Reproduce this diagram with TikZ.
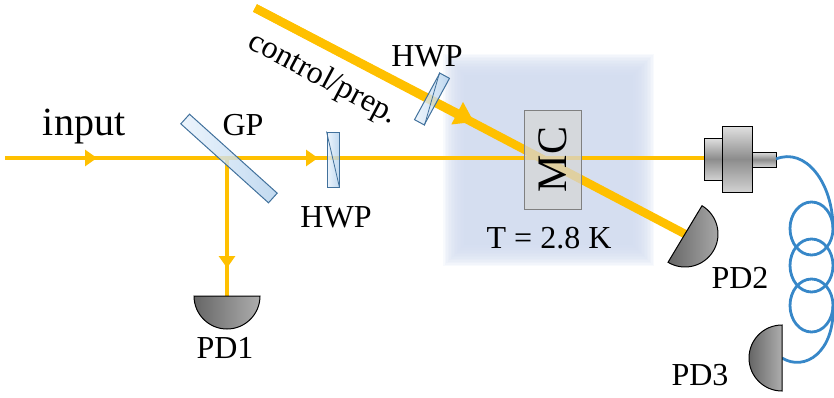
\documentclass[tikz,border=0pt]{standalone}
\usepackage{fontspec}
\setmainfont{LiberationSerif}[Extension=.ttf, UprightFont=*-Regular, BoldFont=*-Bold]
\usetikzlibrary{arrows.meta,calc}

\definecolor{beamc}{RGB}{255,192,0}
\definecolor{fiberc}{RGB}{55,135,200}
\definecolor{platelt}{RGB}{232,242,252}
\definecolor{platedk}{RGB}{178,208,236}
\definecolor{plateedge}{RGB}{65,113,156}
\definecolor{cryo}{RGB}{209,219,239}
\definecolor{mcfill}{RGB}{214,214,214}

\tikzset{
  beam/.style={draw=beamc, line width=4.5pt},
  ctrlbeam/.style={draw=beamc, line width=8.5pt},
  smallhead/.style={-{Triangle[length=12pt,width=16pt]}},
  bighead/.style={-{Triangle[length=19pt,width=24pt]}},
  plate/.style={draw=plateedge, line width=1pt, left color=platelt, right color=platedk,
    fill opacity=0.8, inner sep=0pt},
  fiber/.style={draw=fiberc, line width=2.8pt},
  lbl/.style={font=\rmfamily\fontsize{32}{32}\selectfont, anchor=base, inner sep=0pt},
  housing/.style={draw=black, line width=0.9pt, top color=black!12, bottom color=black!18,
    middle color=black!45},
  photodiode/.pic={
    \shade[left color=black!60, middle color=black!14, right color=black!32]
      (-33,0) arc[start angle=180, end angle=360, radius=33] -- cycle;
    \draw[line width=1pt] (-33,0) arc[start angle=180, end angle=360, radius=33] -- cycle;
  },
}

\begin{document}
\begin{tikzpicture}[x=1pt, y=1pt]
  \useasboundingbox (0,0) rectangle (834,397);

  % cryostat region with soft edges
  \foreach \k in {0,...,14}
    \fill[cryo, opacity=0.15] ($(453,141)+(\k*1.5-10,\k*1.5-10)$) rectangle ($(644,333)-(\k*1.5-10,\k*1.5-10)$);

  % beam path points
  \coordinate (in) at (5,239);
  \coordinate (gp) at (227,239);
  \coordinate (cplin) at (704,239);
  \coordinate (cplout) at (776,238);
  \coordinate (a1) at (97,239);
  \coordinate (a2) at (318,239);
  \coordinate (a3) at (227,129);
  \coordinate (pd1) at (227,101);
  \coordinate (ctl) at (255,389);
  \coordinate (a4) at (474,275);
  \coordinate (pd2) at (685,163);
  \coordinate (pd3) at (782,39);

  % signal beam
  \draw[beam] (in) -- (cplin);
  \draw[beam, smallhead] (in) -- (a1);
  \draw[beam, smallhead] (gp) -- (a2);
  % reflected beam to PD1
  \draw[beam] (gp) -- (pd1);
  \draw[beam, smallhead] (gp) -- (a3);
  % control / preparation beam
  \draw[ctrlbeam] (ctl) -- (pd2);
  \draw[ctrlbeam, bighead] (ctl) -- (a4);

  % glass plate and half-wave plates
  \node[plate, minimum width=13pt, minimum height=118pt, rotate=48] (gpplate) at (229,238.5) {};
  \node[plate, minimum width=12pt, minimum height=55pt] (hwpa) at (333,237.5) {};
  \draw[plateedge, line width=0.8pt] (hwpa.north west) -- (hwpa.south east);
  \node[plate, minimum width=11pt, minimum height=53pt, rotate=-28.5] (hwpb) at (432,298) {};
  \draw[plateedge, line width=0.8pt] (hwpb.north west) -- (hwpb.south east);

  % memory crystal
  \node[draw=black!50, line width=1pt, fill=mcfill, fill opacity=0.75,
        minimum width=57pt, minimum height=99pt, inner sep=0pt] (mc) at (553,237.5) {};
  \node[rotate=90, font=\rmfamily\fontsize{42}{42}\selectfont, inner sep=0pt] (mclabel) at (mc.center) {MC};

  % fiber coupler
  \shade[housing] (704,217) rectangle (722,259);
  \shade[housing] (752,230) rectangle (776,245);
  \shade[housing] (722,205) rectangle (752,271);

  % fiber with coil
  \draw[fiber] (cplout) .. controls (805,250) and (833,215) .. (833,168.5);
  \draw[fiber] (811.5,168.5) ellipse[x radius=21.5, y radius=26.5];
  \draw[fiber] (811.5,131.5) ellipse[x radius=21.5, y radius=26.5];
  \draw[fiber] (811.5,91.5) ellipse[x radius=21.5, y radius=26.5];
  \draw[fiber] (833,91.5) .. controls (835,45) and (805,25) .. (pd3);

  % photodiodes
  \pic at (pd1) {photodiode};
  \pic[rotate=59] at (pd2) {photodiode};
  \pic[rotate=-90] at (pd3) {photodiode};

  % labels
  \node[lbl, font=\rmfamily\fontsize{40}{40}\selectfont] (tinput) at (84,262) {input};
  \node[lbl] (tgp) at (243,262) {GP};
  \node[lbl] (thwpa) at (336,170) {HWP};
  \node[lbl] (thwpb) at (427,330) {HWP};
  \node[lbl, anchor=center, rotate=-28] (tctl) at (323,318) {control/prep.};
  \node[lbl] (ttemp) at (549,149) {T = 2.8 K};
  \node[lbl] (tpd1) at (225,39) {PD1};
  \node[lbl] (tpd2) at (740,109) {PD2};
  \node[lbl] (tpd3) at (700,12) {PD3};
\end{tikzpicture}
\end{document}
